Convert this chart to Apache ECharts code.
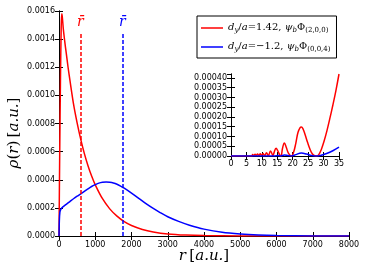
<!DOCTYPE html>
<html><head><meta charset="utf-8">
<script src="https://cdn.jsdelivr.net/npm/echarts@6/dist/echarts.min.js"></script>
<style>html,body{margin:0;padding:0;background:#fff}#c{width:366px;height:274px}</style>
</head><body><div id="c"></div>
<script>
// ---- data ----
const xTicksMain = [0,1000,2000,3000,4000,5000,6000,7000,8000];
const yTicksMain = [0,0.0002,0.0004,0.0006,0.0008,0.0010,0.0012,0.0014,0.0016];
const redR   = [0,20,40,60,75,90,120,160,200,250,300,400,500,600,700,800,900,1000,1200,1400,1600,1800,2000,2300,2600,3000,3500,4000,5000,6000,7000,8000];
const redRho = [0,0.0006,0.0011,0.00148,0.00158,0.00156,0.00147,0.00138,0.0013,0.0012,0.00111,0.00094,0.000805,0.000687,0.000586,0.0005,0.000426,0.000364,0.000265,0.000193,0.000141,0.000102,0.0000745,0.0000465,0.000029,0.000015,0.0000068,0.0000031,0.0000006,0.0000001,0,0];
const blueR   = [0,10,25,50,100,200,300,400,500,600,700,800,900,1000,1100,1200,1300,1400,1500,1600,1700,1800,2000,2200,2400,2600,2800,3000,3300,3600,4000,4500,5000,5500,6000,7000,8000];
const blueRho = [0,0.00011,0.00017,0.00019,0.000205,0.000225,0.000245,0.000265,0.000283,0.0003,0.000318,0.000335,0.000352,0.000365,0.000376,0.000382,0.000384,0.000382,0.000377,0.000368,0.000355,0.00034,0.000305,0.000268,0.00023,0.000196,0.000165,0.000137,0.000104,0.000077,0.000049,0.000026,0.000014,0.000007,0.0000035,0.0000008,0.0000002];
const rBarRed = 590, rBarBlue = 1750, rBarTop = 0.00145;
const insetRedR   = [0,6.8,7.0,7.4,7.8,8.2,8.6,9.0,9.5,9.9,10.4,10.9,11.5,12.1,12.8,13.6,14.0,14.6,15.2,15.9,16.2,16.7,17.3,17.9,18.6,19.6,20.3,21.0,21.7,22.4,22.8,23.3,24.0,24.8,25.6,26.4,27.2,27.8,28.5,29.3,30.2,31.1,32.0,33.0,34.0,35.0];
const insetRedRho = [0,0,0.000008,0.000003,0.000009,0.000003,0.00001,0.000002,0.000011,0.000002,0.000013,0.000001,0.000017,0.000001,0.000026,0.000002,0.00002,0.00004,0.000025,0.000002,0,0.00004,0.000067,0.000045,0.000015,0,0.00002,0.000065,0.00012,0.000145,0.000148,0.00014,0.00011,0.00007,0.000035,0.00001,0.000001,0,0.000008,0.000035,0.000078,0.00013,0.00019,0.00026,0.000335,0.00042];
const insetBlueR   = [0,14,15.2,16.1,17.3,18.5,19.6,21,22.8,24.5,26,27.8,29,31,33,35];
const insetBlueRho = [0,0,0.000002,0,0.000005,0.000002,0,0.000007,0.000015,0.00001,0.000003,0,0.000003,0.000013,0.000027,0.000045];

const zip = (a,b)=>a.map((v,i)=>[v,b[i]]);
const serif = 'DejaVu Serif';
const tickFont = {fontFamily:'DejaVu Sans', fontSize:8, color:'#000'};
const mkRich = (sz)=>({
  i:{fontFamily:serif,fontStyle:'italic',fontSize:sz,color:'#000',verticalAlign:'bottom',padding:[0,0,2,0]},
  n:{fontFamily:serif,fontSize:sz,color:'#000',verticalAlign:'bottom',padding:[0,0,2,0]},
  s:{fontFamily:serif,fontStyle:'italic',fontSize:Math.round(sz*0.65),color:'#000',verticalAlign:'bottom',padding:[0,0,0,0]},
  sn:{fontFamily:serif,fontSize:Math.round(sz*0.65),color:'#000',verticalAlign:'bottom',padding:[0,0,0,0]}
});
function legendFmt(name){
  if(name==='red') return '{i|d}{s|y}{n|/}{i|a}{n|=1.42, }{i|ψ}{s|b}{n|Φ}{sn|(2,0,0)}';
  return '{i|d}{s|y}{n|/}{i|a}{n|=−1.2, }{i|ψ}{s|b}{n|Φ}{sn|(0,0,4)}';
}
const axLine = {show:true,lineStyle:{color:'#000',width:1}};
const tickIn = {show:true,inside:true,length:4,lineStyle:{color:'#000'}};

const chart = echarts.init(document.getElementById('c'),null,{renderer:'canvas'});
chart.setOption({
  animation:false,
  backgroundColor:'#fff',
  grid:[
    {left:59,right:17,top:11,bottom:38},
    {left:231,right:27,top:74,bottom:118}
  ],
  legend:{
    data:['red','blue'], orient:'vertical', left:197, top:16,
    borderColor:'#000', borderWidth:1, borderRadius:0, padding:[6,6,5,4],
    itemWidth:22, itemHeight:10, itemGap:7, icon:'path://M0,0 L22,0 L22,1.5 L0,1.5 Z',
    formatter:legendFmt,
    textStyle:{rich:mkRich(10)}
  },
  xAxis:[
    {gridIndex:0,type:'value',min:0,max:8000,interval:1000,axisLine:axLine,axisTick:tickIn,splitLine:{show:false},
     axisLabel:Object.assign({margin:5,formatter:v=>String(v)},tickFont)},
    {gridIndex:0,type:'value',position:'top',min:0,max:8000,interval:1000,axisLine:axLine,axisTick:tickIn,splitLine:{show:false},axisLabel:{show:false}},
    {gridIndex:1,type:'value',min:0,max:35,interval:5,axisLine:axLine,axisTick:tickIn,splitLine:{show:false},
     axisLabel:Object.assign({margin:4,formatter:v=>String(v)},tickFont)},
    {gridIndex:1,type:'value',position:'top',min:0,max:35,interval:5,axisLine:axLine,axisTick:tickIn,splitLine:{show:false},axisLabel:{show:false}}
  ],
  yAxis:[
    {gridIndex:0,type:'value',min:0,max:0.0016,interval:0.0002,axisLine:axLine,axisTick:tickIn,splitLine:{show:false},
     axisLabel:Object.assign({margin:4,formatter:v=>v.toFixed(4)},tickFont)},
    {gridIndex:0,type:'value',position:'right',min:0,max:0.0016,interval:0.0002,axisLine:axLine,axisTick:tickIn,splitLine:{show:false},axisLabel:{show:false}},
    {gridIndex:1,type:'value',min:0,max:0.00042,interval:0.00005,axisLine:axLine,axisTick:tickIn,splitLine:{show:false},
     axisLabel:Object.assign({margin:4,showMaxLabel:false,formatter:v=>(Math.abs(v/0.00005-Math.round(v/0.00005))<1e-6)?v.toFixed(5):''},tickFont)},
    {gridIndex:1,type:'value',position:'right',min:0,max:0.00042,interval:0.00005,axisLine:axLine,axisTick:tickIn,splitLine:{show:false},axisLabel:{show:false}}
  ],
  series:[
    {name:'red',type:'line',xAxisIndex:0,yAxisIndex:0,data:zip(redR,redRho),showSymbol:false,symbol:'none',smooth:0.3,
     lineStyle:{color:'#ff0000',width:1.5},itemStyle:{color:'#ff0000'},
     markLine:{silent:true,symbol:'none',lineStyle:{color:'#ff0000',type:[4,2],width:1.5},
       label:{show:true,position:'end',distance:3,formatter:'r̄',fontFamily:serif,fontStyle:'italic',fontSize:14,color:'#ff0000'},
       data:[[{coord:[rBarRed,0]},{coord:[rBarRed,rBarTop]}]]}},
    {name:'blue',type:'line',xAxisIndex:0,yAxisIndex:0,data:zip(blueR,blueRho),showSymbol:false,symbol:'none',smooth:0.3,
     lineStyle:{color:'#0000ff',width:1.5},itemStyle:{color:'#0000ff'},
     markLine:{silent:true,symbol:'none',lineStyle:{color:'#0000ff',type:[4,2],width:1.5},
       label:{show:true,position:'end',distance:3,formatter:'r̄',fontFamily:serif,fontStyle:'italic',fontSize:14,color:'#0000ff'},
       data:[[{coord:[rBarBlue,0]},{coord:[rBarBlue,rBarTop]}]]}},
    {name:'redInset',type:'line',xAxisIndex:2,yAxisIndex:2,data:zip(insetRedR,insetRedRho),showSymbol:false,symbol:'none',smooth:0.4,
     lineStyle:{color:'#ff0000',width:1.5}},
    {name:'blueInset',type:'line',xAxisIndex:2,yAxisIndex:2,data:zip(insetBlueR,insetBlueRho),showSymbol:false,symbol:'none',smooth:0.4,
     lineStyle:{color:'#0000ff',width:1.5}}
  ],
  graphic:[
    {type:'text',x:204,y:257,style:{text:'{i|r} {n|[}{i|a.u.}{n|]}',rich:mkRich(15),align:'center',verticalAlign:'middle'}},
    {type:'text',x:15,y:133,rotation:Math.PI/2,style:{text:'{i|ρ}{n|(}{i|r}{n|)} {n|[}{i|a.u.}{n|]}',rich:mkRich(15),align:'center',verticalAlign:'middle'}}
  ]
});
</script></body></html>
